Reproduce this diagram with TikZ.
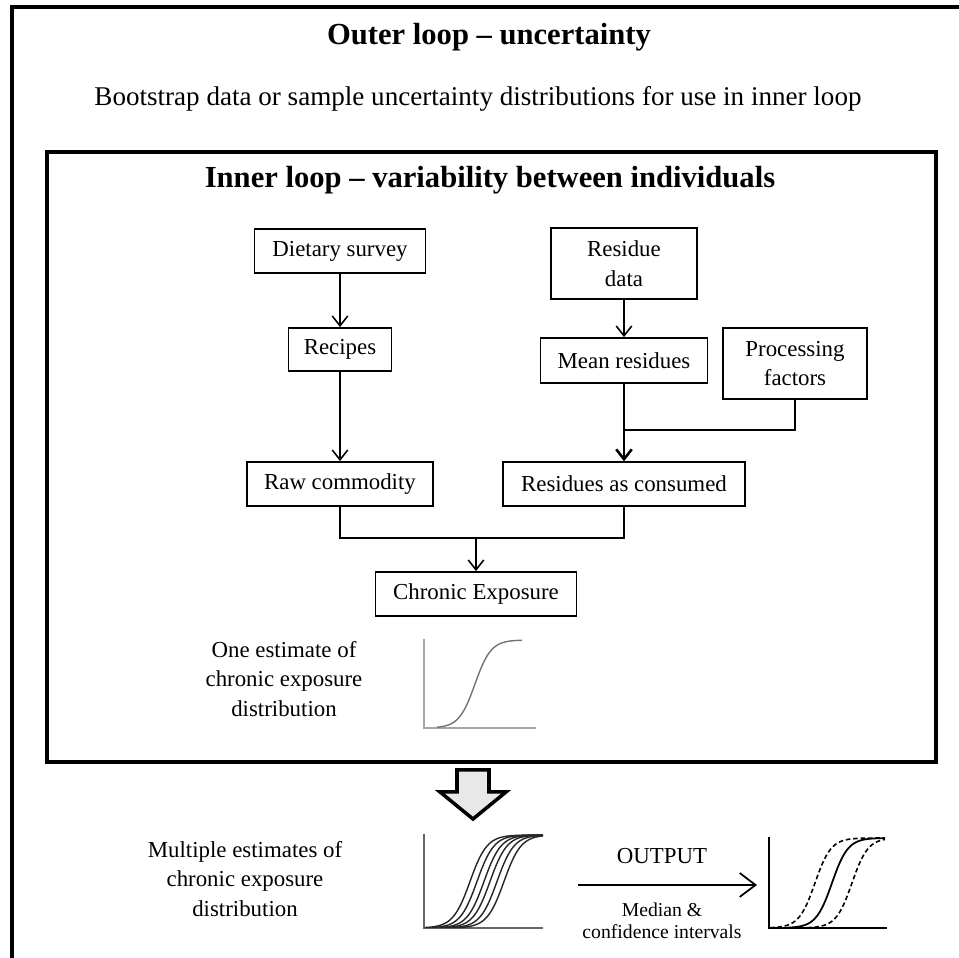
\documentclass[tikz,border=0pt]{standalone}
\usepackage{fontspec}
\setmainfont{Liberation Serif}
\usetikzlibrary{arrows.meta}

\newcommand\boxfont{\fontsize{6.5}{8.4}\selectfont}
\newcommand\loopfont{\fontsize{8.7}{10}\selectfont\bfseries}
\newcommand\bootfont{\fontsize{7.7}{9}\selectfont}
\newcommand\notefont{\fontsize{5.6}{6.3}\selectfont}

% one cumulative curve: [options]{from}{to}{middle}{spread}{base}{height}
\newcommand\cdfcurve[7][]{%
  \draw[#1, domain=#2:#3, samples=60, smooth]
    plot (\x, {#6-#7/(1+exp(-(\x-#4)/#5))});}

\tikzset{
  flowbox/.style={draw, line width=0.5pt, align=center, inner sep=0pt, font=\boxfont},
  flowline/.style={line width=0.45pt},
  flowarrow/.style={line width=0.45pt, -{Straight Barb[length=2.8pt,width=4.4pt]}},
  caption/.style={align=center, font=\boxfont},
}

\begin{document}
\begin{tikzpicture}[x=0.01cm, y=-0.01cm]
\clip (0,0) rectangle (959,958);

% outer loop frame (runs off the page on the right and below)
\draw [line width=0.9pt] (12,1100) |- (1100,7);
\node (outertitle) [font=\loopfont] at (489,37) {Outer loop -- uncertainty};
\node (boot) [font=\bootfont] at (478,99)
  {Bootstrap data or sample uncertainty distributions for use in inner loop};

% inner loop frame
\draw [line width=1.3pt] (47,152) rectangle (936,762);
\node (innertitle) [font=\loopfont] at (490,180) {Inner loop -- variability between individuals};

% boxes
\node (diet)    [flowbox, minimum width=1.71cm, minimum height=0.44cm] at (340,251) {Dietary survey};
\node (recipes) [flowbox, minimum width=1.03cm, minimum height=0.43cm] at (340,349.5) {Recipes};
\node (raw)     [flowbox, minimum width=1.86cm, minimum height=0.44cm] at (340,484) {Raw commodity};
\node (resdata) [flowbox, minimum width=1.46cm, minimum height=0.71cm] at (624,263.5) {Residue\\data};
\node (meanres) [flowbox, minimum width=1.67cm, minimum height=0.45cm] at (624,360.5) {Mean residues};
\node (procfac) [flowbox, minimum width=1.44cm, minimum height=0.71cm] at (795,363.5) {Processing\\factors};
\node (rescons) [flowbox, minimum width=2.42cm, minimum height=0.44cm] at (624,484) {Residues as consumed};
\node (chronic) [flowbox, minimum width=2.01cm, minimum height=0.44cm] at (476,594) {Chronic Exposure};

% connectors
\draw [flowarrow] (diet) -- (recipes);
\draw [flowarrow] (recipes) -- (raw);
\draw [flowarrow] (resdata) -- (meanres);
\draw [flowarrow] (meanres) -- (rescons);
\coordinate (pjoin) at (624,430);
\draw [flowline] (procfac.south) |- (pjoin);
\draw [line width=0.7pt, -{Straight Barb[length=2.8pt,width=4.4pt]}] (pjoin) -- (rescons);
\coordinate (cjoin) at (476,538);
\draw [flowline] (raw.south) |- (cjoin) -| (rescons.south);
\draw [flowarrow] (cjoin) -- (chronic);

% one estimate
\node (oneest) [caption] at (284,679) {One estimate of\\chronic exposure\\distribution};
\draw [gray!70, line width=0.35pt] (424,639) -- (424,728) -- (536,728);
\cdfcurve[gray!90!black, line width=0.4pt]{437}{522}{475}{8}{728}{88}

% block arrow down to the outer loop
\draw [fill=gray!18, line width=1pt, line join=miter]
  (457,770) -- (489,770) -- (489,792) -- (506,792) -- (473,819)
  -- (440,792) -- (457,792) -- cycle;

% multiple estimates
\node (multiest) [caption] at (245,879) {Multiple estimates of\\chronic exposure\\distribution};
\draw [gray!80!black, line width=0.4pt] (424,834) -- (424,928) -- (543,928);
\foreach \m in {470,477,484,490,497,504}{
  \cdfcurve[gray!30!black, line width=0.4pt]{\m-45}{543}{\m}{8.5}{928}{93}
}

% output arrow
\coordinate (outstart) at (578,885);
\coordinate (outend) at (757,885);
\draw [line width=0.5pt, -{Straight Barb[length=4.5pt,width=6.8pt]}] (outstart) -- (outend);
\node (output) [font=\boxfont] at (662,856) {OUTPUT};
\node (median) [align=center, font=\notefont] at (662,921) {Median \&\\confidence intervals};

% median and confidence intervals
\draw [line width=0.45pt] (769,837) -- (769,928) -- (887,928);
\cdfcurve[line width=0.45pt, dash pattern=on 1.3pt off 0.8pt]{770}{885}{815}{8}{928}{90}
\cdfcurve[line width=0.5pt]{787}{885}{832}{8}{928}{90}
\cdfcurve[line width=0.45pt, dash pattern=on 1.3pt off 0.8pt]{807}{885}{852}{8}{928}{90}

\end{tikzpicture}
\end{document}
